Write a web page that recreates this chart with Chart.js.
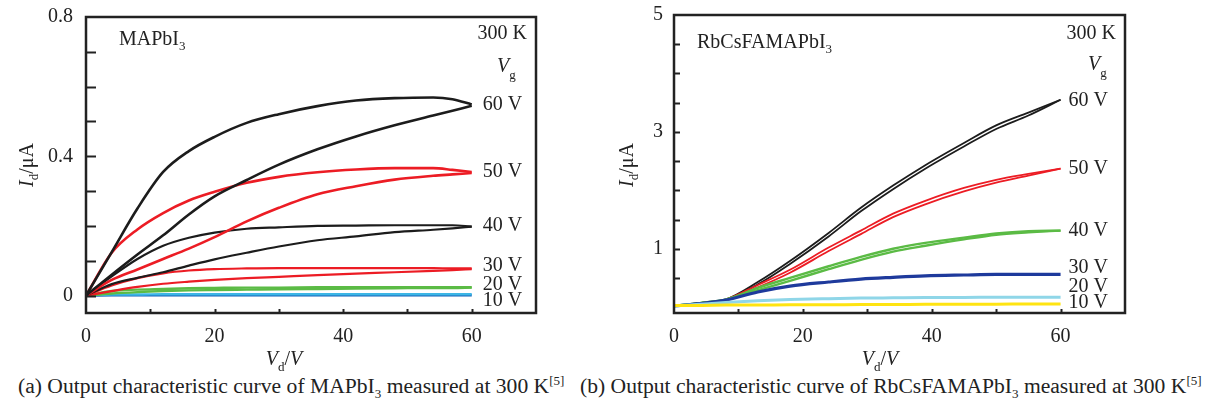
<!DOCTYPE html>
<html>
<head>
<meta charset="utf-8">
<script src="https://cdn.jsdelivr.net/npm/chart.js@4.4.1/dist/chart.umd.min.js"></script>
<style>
body { margin: 0; background: #fff; width: 1211px; height: 408px; position: relative; overflow: hidden; font-family: "Liberation Serif", serif; color: #222; }
#wa { position: absolute; left: 0; top: 0; }
#wb { position: absolute; left: 600px; top: 0; }
.cap { position: absolute; top: 375px; font-size: 21.6px; line-height: 22px; white-space: nowrap; }
.cap .sb { font-size: 13px; position: relative; top: 5px; }
.cap .sp { font-size: 13px; position: relative; top: -8px; }
</style>
</head>
<body>
<canvas id="wa" width="600" height="372"></canvas>
<canvas id="wb" width="611" height="372"></canvas>
<div class="cap" style="left:18px">(a) Output characteristic curve of MAPbI<span class="sb">3</span> measured at 300 K<span class="sp">[5]</span></div>
<div class="cap" style="left:580px">(b) Output characteristic curve of RbCsFAMAPbI<span class="sb">3</span> measured at 300 K<span class="sp">[5]</span></div>
<script>
// gate voltage labels, top to bottom
var vgLabels = ['60 V', '50 V', '40 V', '30 V', '20 V', '10 V'];

// (a) MAPbI3 - forward (f) and return (r) sweeps, Id in uA
var vdA = [0, 4, 8, 12, 16, 20, 25, 30, 36, 42, 48, 54, 57, 60];
var a60f = [0, 0.125, 0.25, 0.355, 0.415, 0.456, 0.496, 0.521, 0.544, 0.560, 0.567, 0.569, 0.564, 0.549];
var a60r = [0, 0.06, 0.118, 0.173, 0.233, 0.285, 0.332, 0.376, 0.420, 0.457, 0.489, 0.517, 0.531, 0.545];
var a50f = [0, 0.123, 0.19, 0.237, 0.273, 0.298, 0.324, 0.341, 0.354, 0.362, 0.366, 0.366, 0.361, 0.355];
var a50r = [0, 0.045, 0.075, 0.105, 0.135, 0.168, 0.213, 0.252, 0.291, 0.314, 0.333, 0.344, 0.348, 0.352];
var a40f = [0, 0.055, 0.105, 0.143, 0.166, 0.181, 0.192, 0.196, 0.200, 0.201, 0.202, 0.202, 0.202, 0.198];
var a40r = [0, 0.033, 0.051, 0.067, 0.086, 0.104, 0.123, 0.141, 0.159, 0.170, 0.182, 0.189, 0.193, 0.198];
var a30f = [0, 0.029, 0.05, 0.064, 0.072, 0.076, 0.078, 0.079, 0.079, 0.079, 0.079, 0.079, 0.078, 0.078];
var a30r = [0, 0.013, 0.025, 0.034, 0.04, 0.045, 0.05, 0.054, 0.059, 0.063, 0.067, 0.071, 0.073, 0.076];
var a20f = [0, 0.013, 0.017, 0.019, 0.021, 0.022, 0.023, 0.023, 0.024, 0.024, 0.024, 0.024, 0.024, 0.024];
var a20r = [0, 0.006, 0.010, 0.013, 0.015, 0.016, 0.017, 0.018, 0.019, 0.020, 0.021, 0.022, 0.022, 0.023];
var a10f = [0, 0.003, 0.003, 0.004, 0.004, 0.004, 0.004, 0.004, 0.004, 0.004, 0.004, 0.004, 0.004, 0.004];
var a10r = [0, 0.001, 0.001, 0.001, 0.001, 0.001, 0.001, 0.001, 0.001, 0.001, 0.001, 0.001, 0.001, 0.001];
var yTicksA = [0, 0.4, 0.8];
var yMinorA = [0, 0.1, 0.2, 0.3, 0.4, 0.5, 0.6, 0.7];

// (b) RbCsFAMAPbI3
var vdB = [0, 4, 8, 13, 18, 24, 29, 34, 39, 45, 50, 55, 60];
var b60f = [0.02, 0.07, 0.13, 0.39, 0.74, 1.21, 1.64, 2.02, 2.37, 2.75, 3.05, 3.28, 3.55];
var b60r = [0.02, 0.07, 0.13, 0.43, 0.79, 1.27, 1.70, 2.08, 2.43, 2.81, 3.11, 3.33, 3.55];
var b50f = [0.02, 0.07, 0.13, 0.34, 0.59, 0.96, 1.25, 1.54, 1.76, 1.98, 2.13, 2.25, 2.37];
var b50r = [0.02, 0.07, 0.13, 0.38, 0.64, 1.02, 1.31, 1.60, 1.82, 2.04, 2.18, 2.28, 2.37];
var b40f = [0.02, 0.07, 0.13, 0.29, 0.45, 0.65, 0.81, 0.95, 1.05, 1.16, 1.24, 1.28, 1.31];
var b40r = [0.02, 0.07, 0.13, 0.33, 0.50, 0.70, 0.86, 1.00, 1.10, 1.19, 1.26, 1.30, 1.31];
var b30 = [0.02, 0.06, 0.12, 0.26, 0.36, 0.43, 0.48, 0.51, 0.535, 0.55, 0.56, 0.56, 0.56];
var b20 = [0.02, 0.05, 0.08, 0.11, 0.13, 0.145, 0.155, 0.16, 0.165, 0.165, 0.17, 0.17, 0.17];
var b10 = [0.03, 0.03, 0.035, 0.035, 0.04, 0.04, 0.045, 0.045, 0.05, 0.05, 0.05, 0.055, 0.055];
var yTicksB = [1, 3, 5];
var yMinorB = [0.5, 1, 1.5, 2, 2.5, 3, 3.5, 4, 4.5];

var xTicks = [0, 20, 40, 60];
var xMinor = [10, 20, 30, 40, 50, 60];

var FONT = '"Liberation Serif", "Times New Roman", serif';

function pts(xs, ys) {
    return xs.map(function (v, i) { return { x: v, y: ys[i] }; });
}

function line(xs, ys, color, width) {
    return {
        data: pts(xs, ys),
        borderColor: color,
        borderWidth: width,
        pointRadius: 0,
        cubicInterpolationMode: 'monotone',
        fill: false
    };
}

// draws a run of text pieces [{t, f, dy}] starting at x
function runs(ctx, x, y, parts, align) {
    var w = 0;
    parts.forEach(function (p) { ctx.font = p.f; w += ctx.measureText(p.t).width; });
    if (align === 'center') x -= w / 2;
    if (align === 'right') x -= w;
    parts.forEach(function (p) {
        ctx.font = p.f;
        ctx.fillText(p.t, x, y + (p.dy || 0));
        x += ctx.measureText(p.t).width;
    });
}

var big = '20px ' + FONT, bigI = 'italic 20px ' + FONT, small = '13px ' + FONT;

var decor = {
    id: 'decor',
    afterDatasetsDraw: function (chart, args, o) {
        var ctx = chart.ctx, a = chart.chartArea, x = chart.scales.x, y = chart.scales.y;
        ctx.save();
        ctx.strokeStyle = '#222';
        ctx.lineWidth = 2.5;
        ctx.strokeRect(a.left, a.top, a.right - a.left, a.bottom - a.top);
        ctx.lineWidth = 2;
        o.yMinor.forEach(function (v) {
            var py = Math.round(y.getPixelForValue(v)) + 0.5;
            ctx.beginPath(); ctx.moveTo(a.left, py); ctx.lineTo(a.left + o.yLen, py); ctx.stroke();
        });
        xMinor.forEach(function (v) {
            var px = Math.round(x.getPixelForValue(v)) + 0.5;
            ctx.beginPath(); ctx.moveTo(px, a.bottom); ctx.lineTo(px, a.bottom - 4); ctx.stroke();
        });

        ctx.fillStyle = '#222';
        ctx.textBaseline = 'middle';
        ctx.font = big;
        var lx = x.getPixelForValue(60) + o.lx;
        o.ends.forEach(function (v, i) {
            ctx.fillText(vgLabels[i], lx, y.getPixelForValue(v) + o.nudge[i]);
        });

        ctx.textBaseline = 'alphabetic';
        runs(ctx, o.name[0], o.name[1], [{ t: o.name[2], f: big }, { t: '3', f: small, dy: 5 }]);
        runs(ctx, a.right - 9, 39, [{ t: '300 K', f: big }], 'right');
        runs(ctx, o.vg[0], o.vg[1], [{ t: 'V', f: bigI }, { t: 'g', f: small, dy: 7 }]);
        runs(ctx, o.xt[0], o.xt[1], [{ t: 'V', f: bigI }, { t: 'd', f: small, dy: 6 }, { t: '/', f: big }, { t: 'V', f: bigI }], 'center');

        ctx.translate(o.yt[0], o.yt[1]);
        ctx.rotate(-Math.PI / 2);
        runs(ctx, 0, 0, [{ t: 'I', f: bigI }, { t: 'd', f: small, dy: 5 }, { t: '/\u03bcA', f: big }], 'center');
        ctx.restore();
    }
};

function makeChart(id, datasets, yMin, yMax, yTicks, yWidth, yPad, padRight, deco) {
    var ctx = document.getElementById(id).getContext('2d');
    return new Chart(ctx, {
        type: 'line',
        data: { datasets: datasets },
        options: {
            responsive: false,
            animation: false,
            layout: { padding: { top: 13, right: padRight, left: 0, bottom: 0 } },
            plugins: { legend: { display: false }, tooltip: { enabled: false }, decor: deco },
            scales: {
                x: {
                    type: 'linear', min: 0, max: 70,
                    grid: { display: false },
                    border: { display: false },
                    afterBuildTicks: function (s) { s.ticks = xTicks.map(function (v) { return { value: v }; }); },
                    afterFit: function (s) { s.height = 59; },
                    ticks: { color: '#222', font: { family: FONT, size: 20 }, padding: 4, maxRotation: 0 }
                },
                y: {
                    type: 'linear', min: yMin, max: yMax,
                    grid: { display: false },
                    border: { display: false },
                    afterBuildTicks: function (s) { s.ticks = yTicks.map(function (v) { return { value: v }; }); },
                    afterFit: function (s) { s.width = yWidth; },
                    ticks: { color: '#222', font: { family: FONT, size: 20 }, padding: yPad,
                        callback: function (v) { return String(v); } }
                }
            }
        },
        plugins: [decor]
    });
}

var BLACK = '#1c1c1c', RED = '#ec1c24', GREEN = '#5bbb45';

makeChart('wa', [
    line(vdA, a60f, BLACK, 2.6), line(vdA, a60r, BLACK, 2.6),
    line(vdA, a50f, RED, 2.6), line(vdA, a50r, RED, 2.6),
    line(vdA, a40f, BLACK, 2.2), line(vdA, a40r, BLACK, 2.2),
    line(vdA, a30f, RED, 2.2), line(vdA, a30r, RED, 2.2),
    line(vdA, a20f, GREEN, 2.4), line(vdA, a20r, GREEN, 2.4),
    line(vdA, a10f, '#3cb6e6', 2.4), line(vdA, a10r, '#1262b8', 2.4)
], -0.05, 0.8, yTicksA, 86, 5, 64, {
    yMinor: yMinorA, yLen: 10, lx: 11,
    ends: [a60f[13], a50f[13], a40f[13], a30f[13], a20f[13], a10f[13]],
    nudge: [0, 0, -1, -3, -2, 7],
    name: [119, 45, 'MAPbI'], vg: [497, 72], xt: [284, 365], yt: [33, 165]
});

makeChart('wb', [
    line(vdB, b10, '#ffe411', 3),
    line(vdB, b20, '#8fd6e8', 3),
    line(vdB, b30, '#1e3a9c', 3.2),
    line(vdB, b40f, GREEN, 2.4), line(vdB, b40r, GREEN, 2.4),
    line(vdB, b50f, RED, 1.8), line(vdB, b50r, RED, 1.8),
    line(vdB, b60f, BLACK, 1.8), line(vdB, b60r, BLACK, 1.8)
], -0.1, 5, yTicksB, 74, 3, 86, {
    yMinor: yMinorB, yLen: 6, lx: 8,
    ends: [b60f[12], b50f[12], b40f[12], b30[12], b20[12], b10[12]],
    nudge: [1, 0, 0, -7, -10, -1],
    name: [97, 48, 'RbCsFAMAPbI'], vg: [488, 70], xt: [280, 365], yt: [33, 165]
});
</script>
</body>
</html>
